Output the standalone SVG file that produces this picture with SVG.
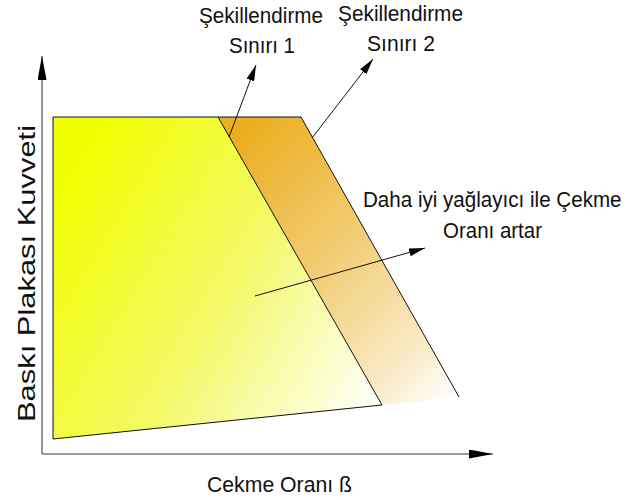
<svg xmlns="http://www.w3.org/2000/svg" width="626" height="500" viewBox="0 0 626 500">
<style>
text{font-family:"Liberation Sans",Arial,Helvetica,sans-serif;fill:#111}
.t{font-size:22px}
.ax{stroke:#777;stroke-width:1.6;fill:none}
.ln{stroke:#111;stroke-width:1;fill:none}
</style>
<defs>
<linearGradient id="gy" gradientUnits="userSpaceOnUse" x1="53" y1="200" x2="385" y2="400">
<stop offset="0" stop-color="#f0ff00"/>
<stop offset="0.5" stop-color="#f3f865"/>
<stop offset="1" stop-color="#ffffff"/>
</linearGradient>
<linearGradient id="go" gradientUnits="userSpaceOnUse" x1="225" y1="150" x2="465" y2="390">
<stop offset="0" stop-color="#ebae1f"/>
<stop offset="0.45" stop-color="#f1cd76"/>
<stop offset="0.8" stop-color="#f8e9c4"/>
<stop offset="1" stop-color="#ffffff"/>
</linearGradient>
<marker id="ah" viewBox="0 0 16 8" refX="16" refY="4" markerWidth="16" markerHeight="8" markerUnits="userSpaceOnUse" orient="auto">
<path d="M0,0 L16,4 L0,8 Z" fill="#000"/>
</marker>
<marker id="axh" viewBox="0 0 24 9" refX="24" refY="4.5" markerWidth="24" markerHeight="9" markerUnits="userSpaceOnUse" orient="auto">
<path d="M0,0 L24,4.5 L0,9 Z" fill="#000"/>
</marker>
</defs>

<g id="axes">
<line class="ax" x1="42" y1="454" x2="42" y2="56" marker-end="url(#axh)"/>
<line class="ax" x1="42" y1="454" x2="493" y2="454" marker-end="url(#axh)"/>
</g>

<g id="band2">
<polygon points="218,117 301,117 459,397 382,405" fill="url(#go)"/>
<polyline class="ln" points="218,117 301,117 459,397"/>
</g>

<g id="region1">
<polygon points="53,117 218,117 382,405 53,439" fill="url(#gy)" stroke="#111" stroke-width="1"/>
</g>

<g id="connectors">
<line class="ln" x1="229" y1="137" x2="256" y2="65" marker-end="url(#ah)"/>
<line class="ln" x1="312" y1="138" x2="373" y2="59" marker-end="url(#ah)"/>
<line class="ln" x1="255" y1="296" x2="425" y2="248" marker-end="url(#ah)"/>
</g>

<g id="label-s1">
<text class="t" x="199" y="23" textLength="124" lengthAdjust="spacingAndGlyphs">Şekillendirme</text>
<text class="t" x="229" y="53" textLength="66" lengthAdjust="spacingAndGlyphs">Sınırı 1</text>
</g>
<g id="label-s2">
<text class="t" x="338" y="21" textLength="125" lengthAdjust="spacingAndGlyphs">Şekillendirme</text>
<text class="t" x="367" y="51" textLength="68" lengthAdjust="spacingAndGlyphs">Sınırı 2</text>
</g>
<g id="label-lub">
<text x="0" y="0" transform="translate(363,207) scale(1,1.08)" style="font-size:20.6px">Daha iyi yağlayıcı ile Çekme</text>
<text class="t" x="443" y="238" textLength="99" lengthAdjust="spacingAndGlyphs">Oranı artar</text>
</g>
<g id="label-x">
<text class="t" x="207" y="492" textLength="145" lengthAdjust="spacingAndGlyphs">Cekme Oranı  ß</text>
</g>
<g id="label-y">
<text x="0" y="0" transform="translate(35,422) rotate(-90)" style="font-size:24px" textLength="297" lengthAdjust="spacingAndGlyphs">Baskı  Plakası  Kuvveti</text>
</g>
</svg>
